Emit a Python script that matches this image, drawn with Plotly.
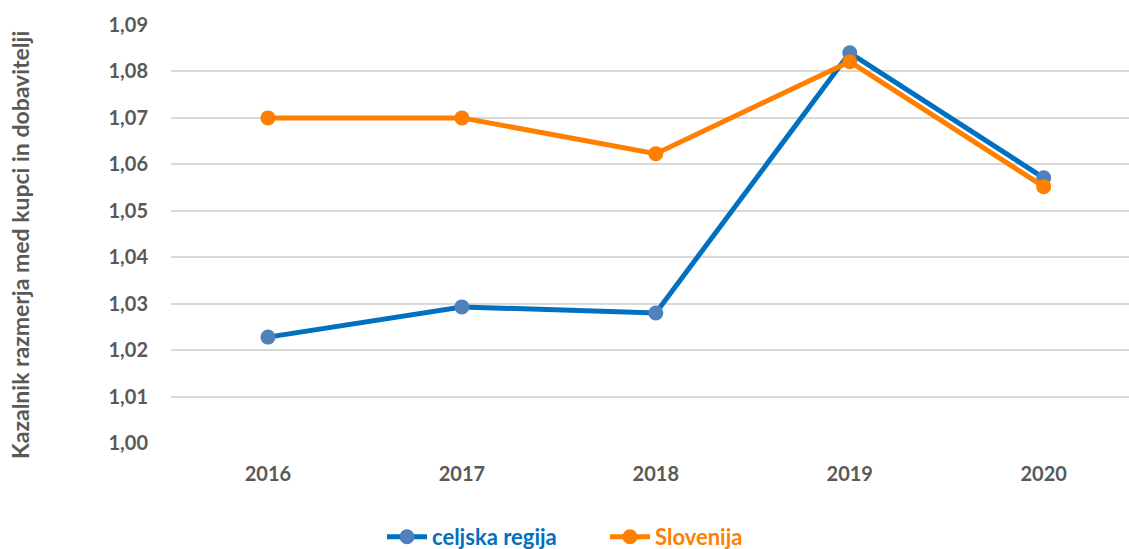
import plotly.graph_objects as go

years = ["2016", "2017", "2018", "2019", "2020"]
celjska = [1.0228, 1.0293, 1.0280, 1.0840, 1.0571]
slovenija = [1.0700, 1.0700, 1.0623, 1.0821, 1.0552]
y_ticks = [1.00, 1.01, 1.02, 1.03, 1.04, 1.05, 1.06, 1.07, 1.08, 1.09]
y_ticktext = [f"{v:.2f}".replace(".", ",") for v in y_ticks]

W, H = 1129, 549
L, R, T, B = 171, 0, 25, 106
font = "Lato"
pw = W - L - R
ph = H - T - B

fig = go.Figure()
fig.add_trace(go.Scatter(
    x=years, y=celjska, mode="lines+markers",
    name="<span style='color:#0070C0'>celjska regija</span>",
    line=dict(color="#0070C0", width=5),
    marker=dict(color="#4F81BD", size=15),
))
fig.add_trace(go.Scatter(
    x=years, y=slovenija, mode="lines+markers",
    name="<span style='color:#FF7F00'>Slovenija</span>",
    line=dict(color="#FF7F00", width=5),
    marker=dict(color="#FF7F00", size=15),
))

fig.update_layout(
    width=W, height=H,
    margin=dict(l=L, r=R, t=T, b=B, autoexpand=False),
    plot_bgcolor="white", paper_bgcolor="white",
    font=dict(family=font, size=20, color="#595959"),
    showlegend=True,
    legend=dict(orientation="h", x=(605 - L) / pw, xanchor="center",
                y=-(537 - (H - B)) / ph, yanchor="middle",
                font=dict(family=font, size=22, color="#595959", weight="bold"),
                itemwidth=40, entrywidth=168, entrywidthmode="pixels"),
    xaxis=dict(type="category", range=[-0.5, 4.44], showgrid=False,
               showline=False, ticks="", ticklabelstandoff=17,
               tickfont=dict(family=font, size=20, color="#595959", weight="bold")),
    yaxis=dict(range=[1.0, 1.09], tickvals=y_ticks, ticktext=y_ticktext,
               showgrid=True, gridcolor="#D9D9D9", gridwidth=1.5,
               zeroline=False, showline=False, ticks="", ticklabelstandoff=22,
               tickfont=dict(family=font, size=20, color="#595959", weight="bold")),
    annotations=[dict(
        text="Kazalnik razmerja med kupci in dobavitelji",
        xref="paper", yref="paper", x=(20 - L) / pw, y=(H - B - 245) / ph,
        xanchor="center", yanchor="middle", textangle=-90, showarrow=False,
        font=dict(family=font, size=23, color="#595959", weight="bold"),
    )],
)

fig.write_html("out.html", config={"displayModeBar": False},
               post_script="document.body.style.margin='0';")
